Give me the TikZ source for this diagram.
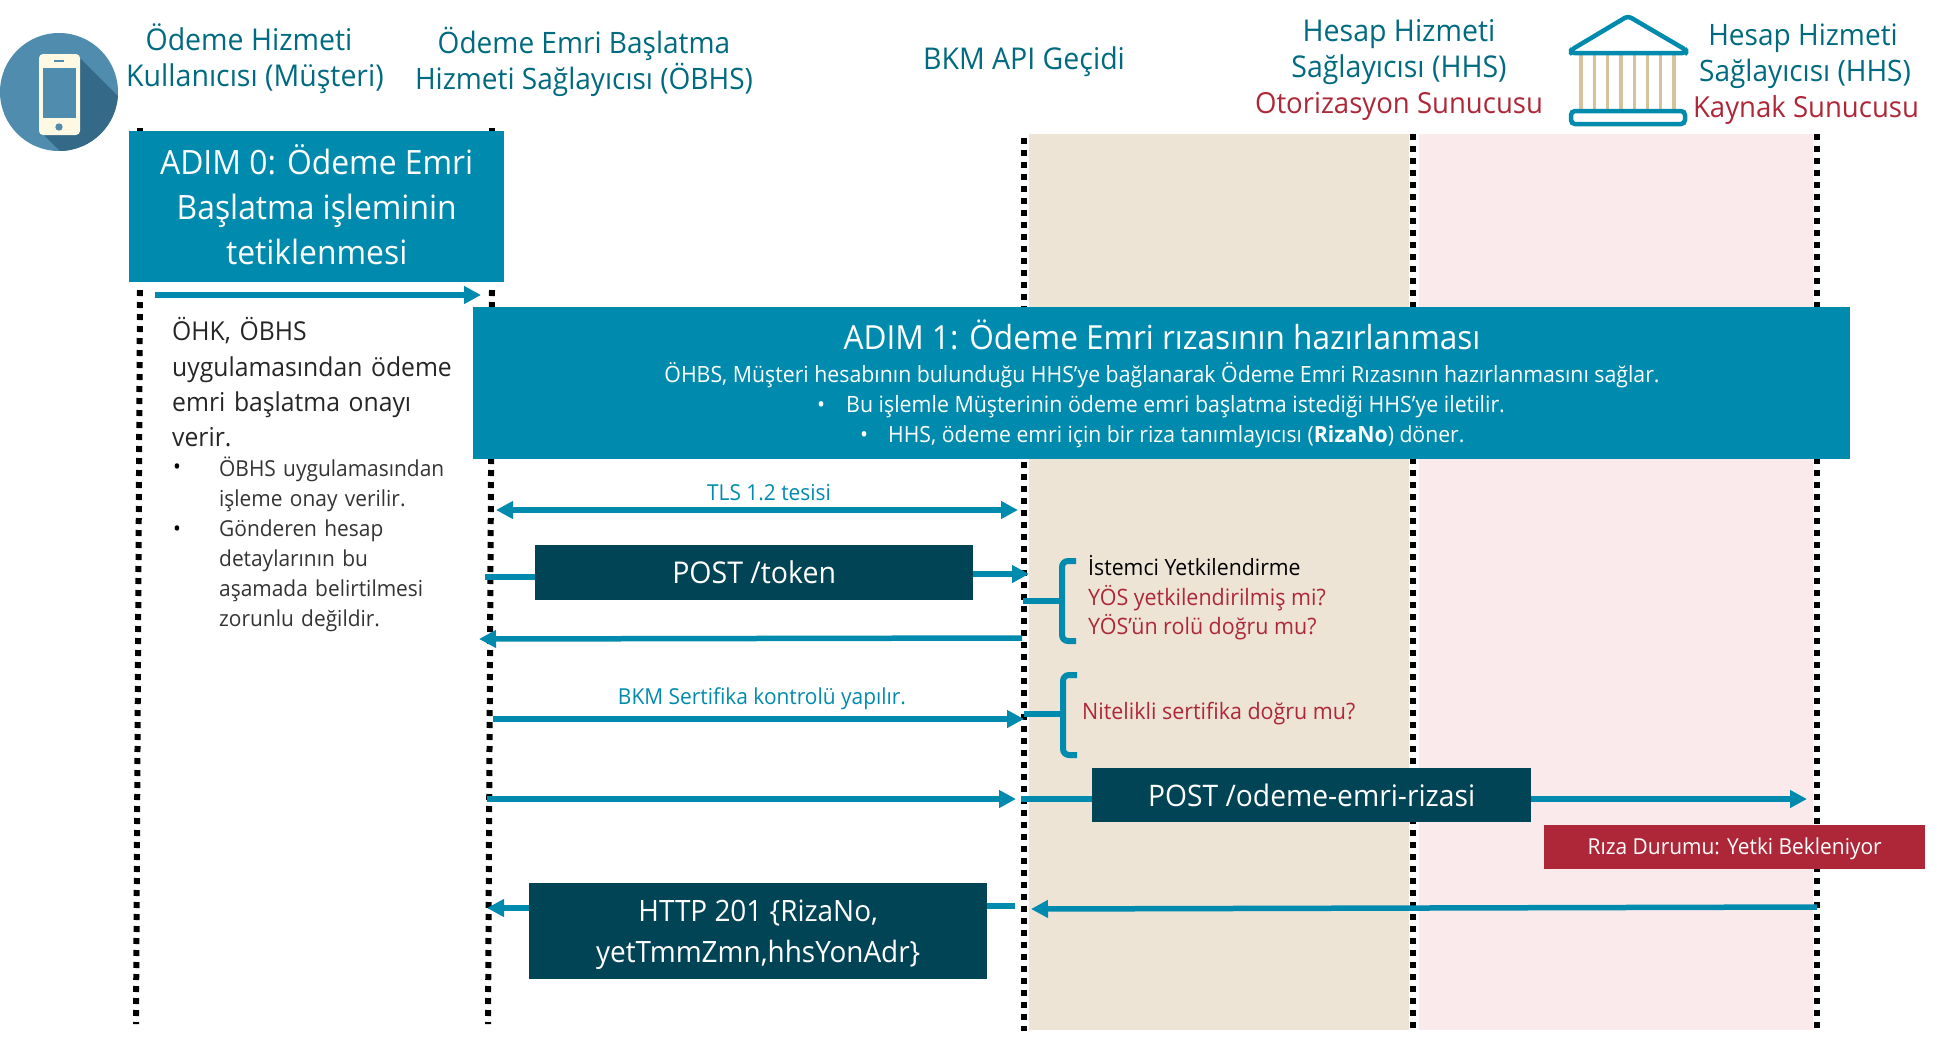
\documentclass[tikz,border=0pt]{standalone}
\usepackage{fontspec}
\setmainfont[FakeStretch=0.95]{Open Sans}
\usetikzlibrary{arrows.meta}
\definecolor{teal}{HTML}{008BAE}
\definecolor{hdr}{HTML}{006A80}
\definecolor{dark}{HTML}{004456}
\definecolor{redc}{HTML}{AE2738}
\definecolor{beige}{HTML}{EDE4D6}
\definecolor{pinkc}{HTML}{FAEAEB}
\definecolor{circ}{HTML}{4F8CAD}
\definecolor{circd}{HTML}{346A87}
\definecolor{cream}{HTML}{FFF8E3}
\definecolor{col}{HTML}{D6C29C}
\newcommand{\fs}[2]{\fontsize{#1}{#2}\selectfont}
\tikzset{
 life/.style={line width=6pt,dash pattern=on 6pt off 6pt,black},
 flow/.style={line width=5.5pt,teal,-{Triangle[length=17pt,width=17pt]}},
 both/.style={line width=5.5pt,teal,{Triangle[length=17pt,width=17pt]}-{Triangle[length=17pt,width=17pt]}},
 plain/.style={line width=5.5pt,teal},
 hd/.style={align=center,inner sep=0pt,text=hdr,font=\fs{30}{36}},
 hdb/.style={align=center,inner sep=0pt,text=hdr,font=\fs{29.5}{36}},
 hdred/.style={align=center,inner sep=0pt,text=redc,font=\fs{29}{36}},
 stepbig/.style={fill=teal,inner sep=0pt,anchor=north west},
 darkbox/.style={fill=dark,inner sep=0pt,anchor=north west},
 boxtxt/.style={text=white,align=center,inner sep=0pt},
 lbl/.style={inner sep=0pt,text=teal,font=\fs{22}{26}},
 side/.style={inner sep=0pt,anchor=west,align=left},
 brace/.style={line width=6pt,teal,line cap=butt},
}
\begin{document}
\begin{tikzpicture}[x=1pt,y=-1pt]
\useasboundingbox (0,0) rectangle (1939,1037);
% bands
\fill[beige] (1029,134) rectangle (1409,1030);
\fill[pinkc] (1419,134) rectangle (1813,1030);
% lifelines
\coordinate (l1t) at (140,290); \coordinate (l1b) at (136,1024);
\coordinate (l2t) at (492,290); \coordinate (l2b) at (488,1024);
\coordinate (l3t) at (1024,138); \coordinate (l3b) at (1024,1031);
\coordinate (l4t) at (1413,134); \coordinate (l4b) at (1413,1031);
\coordinate (l5t) at (1817,134); \coordinate (l5b) at (1817,1031);
\draw[life] (140,128) -- (140,134);
\draw[life] (492,128) -- (492,134);
\draw[life] (l1t) -- (l1b);
\draw[life] (l2t) -- (l2b);
\draw[life] (l3t) -- (l3b);
\draw[life] (l4t) -- (l4b);
\draw[life] (l5t) -- (l5b);
% phone icon
\begin{scope}
\clip (59,92) circle (59);
\fill[circ] (0,33) rectangle (118,151);
\fill[circd] (80,58) -- (120,98) -- (120,155) -- (64,155) -- (42,133) -- cycle;
\end{scope}
\fill[cream,rounded corners=4pt] (39,54) rectangle (80,135);
\fill[circ] (43,68) rectangle (76,118);
\fill[circ] (59,127) circle (3.7);
\draw[circ,line width=1.5pt] (54,61) -- (64,61);
% bank icon
\foreach \x in {1581,1594.3,1607.6,1620.9,1634.2,1647.5,1660.8,1674}
  \draw[col,line width=3.2pt] (\x,53) -- (\x,111);
\draw[teal,line width=4.5pt,line join=round,rounded corners=3.5pt] (1628,16) -- (1686,50) -- (1686,53) -- (1571,53) -- (1571,50) -- cycle;
\draw[teal,line width=4.5pt,rounded corners=4pt] (1571,111) rectangle (1685,124);
% headers
\node[hd] (hokh) at (255,59) {Ödeme Hizmeti\kern12pt\\Kullanıcısı (Müşteri)};
\node[hdb] (hobhs) at (584,62) {Ödeme Emri Başlatma\\Hizmeti Sağlayıcısı (ÖBHS)};
\node[hd] (hbkm) at (1024,62) {BKM API Geçidi};
\node[hd] (hhhs) at (1399,52) {Hesap Hizmeti\\Sağlayıcısı (HHS)};
\node[hdred] (hots) at (1399,106) {Otorizasyon Sunucusu};
\node[hdb] (hkyn) at (1805,56) {Hesap Hizmeti\kern4pt\\Sağlayıcısı (HHS)};
\node[hdred] (hks) at (1806,110) {Kaynak Sunucusu};
% step 0
\node[stepbig,minimum width=375pt,minimum height=151pt] (s0) at (129,131) {};
\node[boxtxt,font=\fs{33.5}{45}] (s0t) at (s0.center) [yshift=2pt] {ADIM 0: Ödeme Emri\\Başlatma işleminin\\tetiklenmesi};
\coordinate (a0s) at (155,295); \coordinate (a0e) at (481,295);
\draw[flow] (a0s) -- (a0e);
% left text
\node[side,text width=300pt,font=\fs{26}{35.3},text=black!85] (okh) at (172,382.5) {ÖHK, ÖBHS\\uygulamasından ödeme\\emri başlatma onayı\\verir.};
\node[inner sep=0pt,font=\fs{22}{30}] (bu1) at (177,469) {•};
\node[side,text width=260pt,font=\fs{22}{30},text=black!80] (t1) at (219,484) {ÖBHS uygulamasından\\işleme onay verilir.};
\node[inner sep=0pt,font=\fs{22}{30}] (bu2) at (177,531) {•};
\node[side,text width=260pt,font=\fs{22}{30},text=black!80] (t2) at (219,576) {Gönderen hesap\\detaylarının bu\\aşamada belirtilmesi\\zorunlu değildir.};
% step 1
\node[stepbig,minimum width=1377pt,minimum height=152pt] (s1) at (473,307) {};
\node[boxtxt,font=\fs{33.2}{38}] (s1t) at (1162,335) {ADIM 1: Ödeme Emri rızasının hazırlanması};
\node[boxtxt,font=\fs{22.4}{28}] (s1a) at (1162,375) {ÖHBS, Müşteri hesabının bulunduğu HHS’ye bağlanarak Ödeme Emri Rızasının hazırlanmasını sağlar.};
\node[boxtxt,font=\fs{22.4}{28}] (s1b1) at (821,407) {•};
\node[boxtxt,font=\fs{22.5}{28},anchor=west] (s1b) at (846,407) {Bu işlemle Müşterinin ödeme emri başlatma istediği HHS’ye iletilir.};
\node[boxtxt,font=\fs{22.4}{28}] (s1c1) at (864,437) {•};
\node[boxtxt,font=\fs{22.3}{28},anchor=west] (s1c) at (888,437) {HHS, ödeme emri için bir riza tanımlayıcısı (\textbf{RizaNo}) döner.};
% TLS
\coordinate (tl) at (496,510); \coordinate (tr) at (1018,510);
\draw[both] (tl) -- (tr);
\node[lbl] (tlsl) at (769,493) {TLS 1.2 tesisi};
% POST token
\node[darkbox,minimum width=438pt,minimum height=55pt] (tok) at (535,545) {};
\node[boxtxt,font=\fs{30}{41}] (tokt) at (tok.center) {POST /token};
\coordinate (tl1) at (485,577); \coordinate (tok1) at (535,577);
\coordinate (tok2) at (973,574); \coordinate (tok3) at (1029,574);
\draw[plain] (tl1) -- (tok1);
\draw[flow] (tok2) -- (tok3);
\coordinate (rt1) at (1022,638); \coordinate (rt2) at (479,639);
\draw[flow] (rt1) -- (rt2);
% BKM
\coordinate (bk1) at (493,719); \coordinate (bk2) at (1024,719);
\draw[flow] (bk1) -- (bk2);
\node[lbl] (bkl) at (762,699) {BKM Sertifika kontrolü yapılır.};
% braces
\coordinate (b1t) at (1076,561); \coordinate (b1b) at (1076,641); \coordinate (b1m) at (1023,601);
\draw[brace] (b1t) -- (1068,561) to[out=180,in=90] (1062,567) -- (1062,635) to[out=270,in=180] (1068,641) -- (b1b);
\draw[brace] (b1m) -- (1062,601);
\coordinate (b2t) at (1077,675); \coordinate (b2b) at (1077,755); \coordinate (b2m) at (1024,714);
\draw[brace] (b2t) -- (1069,675) to[out=180,in=90] (1063,681) -- (1063,749) to[out=270,in=180] (1069,755) -- (b2b);
\draw[brace] (b2m) -- (1063,714);
\node[side,font=\fs{22.4}{28},text=black] (c1) at (1088,566) {İstemci Yetkilendirme};
\node[side,font=\fs{22.6}{29.5},text=redc] (c2) at (1088,612.5) {YÖS yetkilendirilmiş mi?\\YÖS’ün rolü doğru mu?};
\node[side,font=\fs{22.6}{28},text=redc] (c3) at (1082,713.5) {Nitelikli sertifika doğru mu?};
% POST odeme
\node[darkbox,minimum width=439pt,minimum height=54pt] (ode) at (1092,768) {};
\node[boxtxt,font=\fs{29.7}{41}] (odet) at (ode.center) {POST /odeme-emri-rizasi};
\coordinate (od1) at (487,799); \coordinate (od2) at (1016,799);
\coordinate (od3) at (1021,799); \coordinate (od4) at (1092,799);
\coordinate (od5) at (1531,799); \coordinate (od6) at (1807,799);
\draw[flow] (od1) -- (od2);
\draw[plain] (od3) -- (od4);
\draw[flow] (od5) -- (od6);
\node[fill=redc,inner sep=0pt,anchor=north west,minimum width=381pt,minimum height=44pt] (riz) at (1544,825) {};
\node[boxtxt,font=\fs{22}{26}] (rizt) at (riz.center) [yshift=-1.5pt] {Rıza Durumu: Yetki Bekleniyor};
% return
\coordinate (r1) at (1817,907); \coordinate (r2) at (1031,909);
\draw[flow] (r1) -- (r2);
\node[darkbox,minimum width=458pt,minimum height=96pt] (htp) at (529,883) {};
\node[boxtxt,font=\fs{29.4}{41}] (htpt) at (htp.center) [yshift=-3.5pt] {HTTP 201 \{RizaNo,\\yetTmmZmn,hhsYonAdr\}};
\coordinate (h1) at (1015,906); \coordinate (h2) at (987,906);
\coordinate (h3) at (529,908); \coordinate (h4) at (487,908);
\draw[plain] (h1) -- (h2);
\draw[flow] (h3) -- (h4);
\end{tikzpicture}
\end{document}
